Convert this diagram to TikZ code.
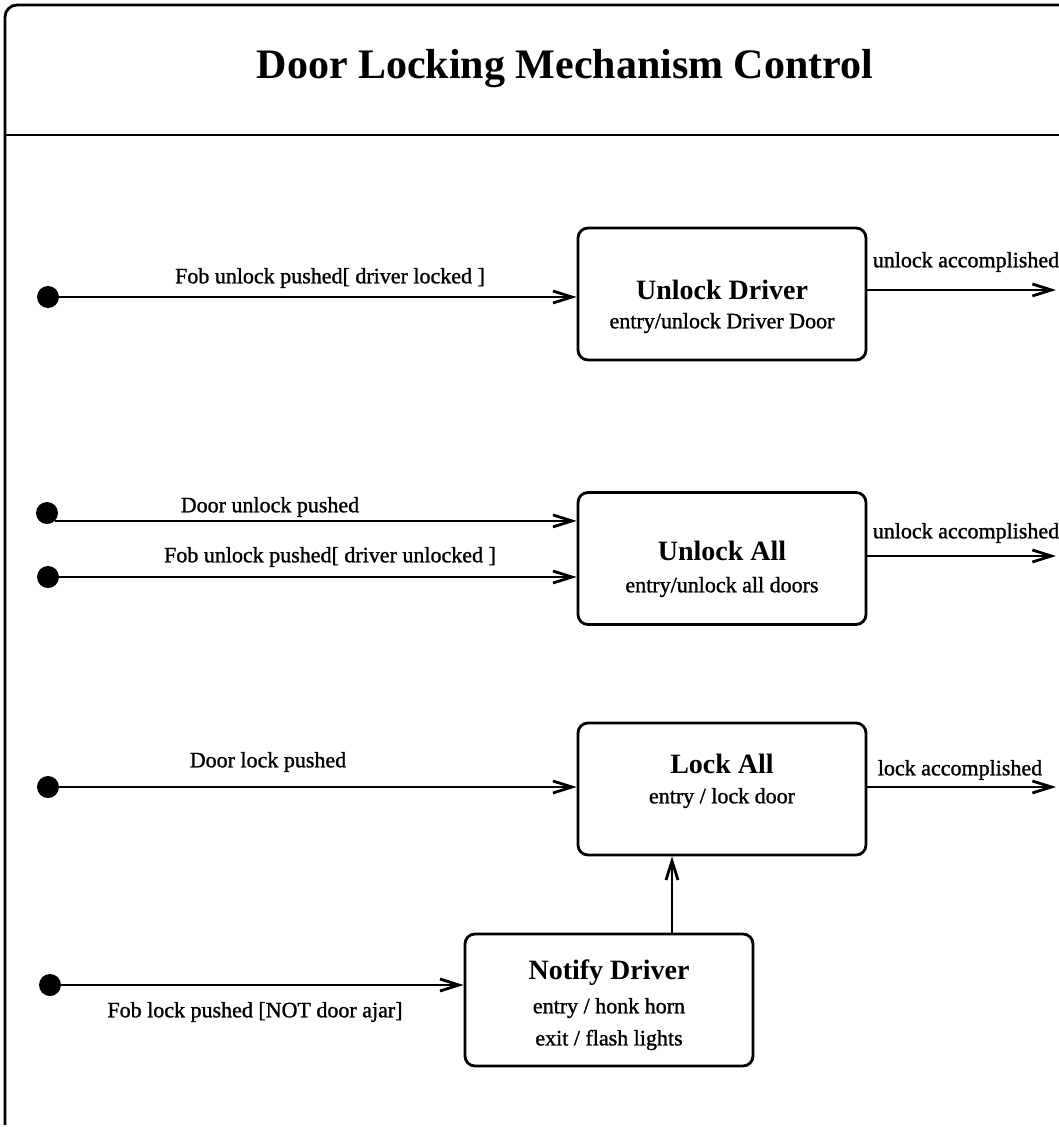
\documentclass[tikz,border=0pt]{standalone}
\usepackage{fontspec}
\setmainfont{Liberation Serif}
\newfontfamily\heavyserif[FakeBold=1.2]{Liberation Serif}
\usetikzlibrary{arrows.meta}
\begin{document}
\begin{tikzpicture}[x=1pt,y=-1pt,
  frameline/.style={line width=2.8pt},
  statebox/.style={draw,line width=2.8pt,rounded corners=10pt,minimum width=288pt,minimum height=132pt,inner sep=0pt},
  initdot/.style={circle,fill=black,minimum size=22pt,inner sep=0pt},
  arr/.style={line width=2.8pt,-{Straight Barb[length=19pt,width=12pt,line width=2.8pt]}},
  sname/.style={font=\fontsize{28}{32}\selectfont\bfseries,inner sep=0pt},
  sact/.style={font=\fontsize{22}{26}\selectfont\heavyserif,inner sep=0pt},
  lbl/.style={font=\fontsize{22}{26}\selectfont\heavyserif,inner sep=0pt}
]
\useasboundingbox (0,0) rectangle (1059,1127);

% outer frame and title compartment
\draw[frameline,rounded corners=12pt] (5,1125) -- (5,5) -- (1080,5);
\draw[frameline] (5,135) -- (1080,135);
\node[font=\fontsize{42}{46}\selectfont\bfseries,inner sep=0pt] (title) at (565,69) {Door Locking Mechanism Control};

% states
\node[statebox] (ud) at (722,294) {};
\node[sname] (udn) at (722,290) {Unlock Driver};
\node[sact] (uda) at (722,323) {entry/unlock Driver Door};

\node[statebox] (ua) at (722,558.5) {};
\node[sname] (uan) at (722,551) {Unlock All};
\node[sact] (uaa) at (722,587) {entry/unlock all doors};

\node[statebox] (la) at (722,789) {};
\node[sname] (lan) at (722,764) {Lock All};
\node[sact] (laa) at (722,798) {entry / lock door};

\node[statebox] (nd) at (609,1000) {};
\node[sname] (ndn) at (609,973) {Notify Driver};
\node[sact] (nda) at (609,1008) {entry / honk horn};
\node[sact] (ndx) at (609,1040) {exit / flash lights};

% initial pseudo-states
\node[initdot] (i1) at (48,297) {};
\node[initdot] (i2) at (47,513) {};
\node[initdot] (i3) at (48,577) {};
\node[initdot] (i4) at (48,787) {};
\node[initdot] (i5) at (50,985) {};

% free ends of the outgoing transitions
\coordinate (o1) at (1056,290);
\coordinate (o2) at (1056,556);
\coordinate (o3) at (1056,787);

% transitions
\draw[arr] (i1.center) -- (i1.center -| ud.west);
\node[lbl] (t1) at (330,278) {Fob unlock pushed[ driver locked ]};

\draw[arr] (i2.south east) -- (i2.south east -| ua.west);
\node[lbl] (t2) at (270,507) {Door unlock pushed};

\draw[arr] (i3.center) -- (i3.center -| ua.west);
\node[lbl] (t3) at (330,557) {Fob unlock pushed[ driver unlocked ]};

\draw[arr] (i4.center) -- (i4.center -| la.west);
\node[lbl] (t4) at (268,762) {Door lock pushed};

\draw[arr] (i5.center) -- (i5.center -| nd.west);
\node[lbl] (t5) at (255,1012) {Fob lock pushed [NOT door ajar]};

\draw[arr] (nd.north -| 672,0) -- (la.south -| 672,0);

\draw[arr] (o1 -| ud.east) -- (o1);
\node[lbl] (t6) at (966,262) {unlock accomplished};

\draw[arr] (o2 -| ua.east) -- (o2);
\node[lbl] (t7) at (966,533) {unlock accomplished};

\draw[arr] (o3 -| la.east) -- (o3);
\node[lbl] (t8) at (960,770) {lock accomplished};
\end{tikzpicture}
\end{document}
